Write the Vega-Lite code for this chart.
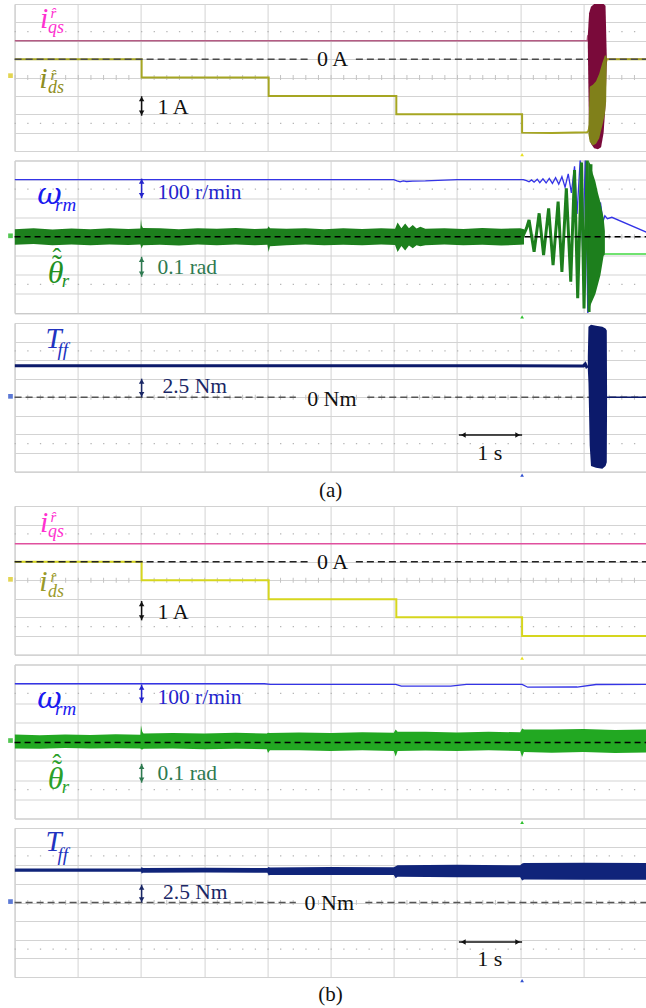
{
  "$schema": "https://vega.github.io/schema/vega-lite/v6.json",
  "padding": {"left": 7.6, "top": 3, "right": 0, "bottom": 0},
  "background": "white",
  "config": {
    "view": {"stroke": "#c2c2c2", "strokeWidth": 1},
    "text": {"font": "Liberation Serif"}
  },
  "bounds": "flush",
  "spacing": 9.5,
  "vconcat": [
        {
          "width": 632, "height": 147,
          "encoding": {
            "x": {"field": "t", "type": "quantitative", "scale": {"domain": [0, 10], "nice": false, "zero": false}, "axis": {"values": [0,1,2,3,4,5,6,7,8,9,10], "grid": true, "gridColor": "#d3d3d3", "labels": false, "ticks": false, "domain": false, "title": null}},
            "y": {"field": "v", "type": "quantitative", "scale": {"domain": [-4, 4], "nice": false, "zero": false}, "axis": {"values": [-4,-3,-2,-1,0,1,2,3,4], "grid": true, "gridColor": "#d3d3d3", "labels": false, "ticks": false, "domain": false, "title": null}}
          },
          "layer": [
            {"data": {"values": [{"t": 0, "t2": 10, "v": 2.5}, {"t": 0, "t2": 10, "v": -2.5}]}, "mark": {"type": "rule", "color": "#b5b5b5", "strokeWidth": 1.3, "strokeDash": [1.3, 11.34]}, "encoding": {"x2": {"field": "t2"}}},
            {"data": {"values": [{"t": 0, "t2": 10, "v": 0}]}, "mark": {"type": "rule", "color": "#c4c4c4", "strokeWidth": 5, "strokeDash": [1, 11.64]}, "encoding": {"x2": {"field": "t2"}}},
            {"data": {"values": [{"t": -0.065, "v": 0.1}]}, "mark": {"type": "point", "shape": "square", "filled": true, "size": 22, "color": "#e0d040", "opacity": 0.9}},
            {"data": {"values": [{"t": 8.03, "v": -4.2}]}, "mark": {"type": "point", "shape": "triangle-up", "filled": true, "size": 14, "color": "#e8e020", "opacity": 1}},
            {"data": {"values": [{"t": 0, "v": 2}, {"t": 9.06, "v": 2}, {"t": 9.07, "v": 2.3}, {"t": 9.09, "v": 1.8}, {"t": 9.37, "v": 1}, {"t": 10, "v": 1}]}, "mark": {"type": "line", "color": "#b45c84", "strokeWidth": 1.5, "clip": true}},
            {"data": {"values": [{"t": 0, "v": 1}, {"t": 2.01, "v": 1}, {"t": 2.01, "v": 0}, {"t": 4.02, "v": 0}, {"t": 4.02, "v": -1}, {"t": 6.04, "v": -1}, {"t": 6.04, "v": -2}, {"t": 8.03, "v": -2}, {"t": 8.03, "v": -3}, {"t": 8.5, "v": -3.02}, {"t": 9.06, "v": -2.98}, {"t": 9.08, "v": -2.9}, {"t": 9.37, "v": 1}, {"t": 10, "v": 1}]}, "mark": {"type": "line", "color": "#a6a622", "strokeWidth": 2, "clip": true}},
            {"data": {"values": [{"t": 0, "t2": 4.65, "v": 1}, {"t": 5.4, "t2": 10, "v": 1}]}, "mark": {"type": "rule", "color": "#4a4a4a", "strokeWidth": 1.5, "strokeDash": [7, 4]}, "encoding": {"x2": {"field": "t2"}}},
            {"data": {"values": [{"t": 9.07, "v": 2.3, "v2": 1.7}, {"t": 9.09, "v": 3.5, "v2": -3.2}, {"t": 9.12, "v": 3.85, "v2": -3.6}, {"t": 9.17, "v": 4.0, "v2": -3.85}, {"t": 9.23, "v": 4.0, "v2": -3.9}, {"t": 9.28, "v": 4.0, "v2": -3.8}, {"t": 9.32, "v": 4.0, "v2": -3.0}, {"t": 9.35, "v": 3.9, "v2": -1.5}, {"t": 9.37, "v": 1.1, "v2": 0.9}]}, "mark": {"type": "area", "orient": "vertical", "color": "#7a0a3a", "clip": true}, "encoding": {"y2": {"field": "v2"}}},
            {"data": {"values": [{"t": 9.08, "v": -2.7, "v2": -3.1}, {"t": 9.1, "v": -0.5, "v2": -3.5}, {"t": 9.15, "v": -0.4, "v2": -3.7}, {"t": 9.2, "v": -0.2, "v2": -3.6}, {"t": 9.25, "v": 0.2, "v2": -3.3}, {"t": 9.3, "v": 0.8, "v2": -2.6}, {"t": 9.34, "v": 1.2, "v2": -2.0}, {"t": 9.36, "v": 1.2, "v2": -1.3}, {"t": 9.37, "v": 1.05, "v2": 0.95}]}, "mark": {"type": "area", "orient": "vertical", "color": "#80801a", "clip": true}, "encoding": {"y2": {"field": "v2"}}},
            {"data": {"values": [{"t": 5.03, "v": 1, "label": "0 A"}]}, "mark": {"type": "text", "fontSize": 22, "color": "#111", "align": "center", "baseline": "middle"}, "encoding": {"text": {"field": "label"}}},
            {"data": {"values": [{"t": 2.26, "v": -1.59, "label": "1 A"}]}, "mark": {"type": "text", "fontSize": 22, "color": "#111", "align": "left", "baseline": "middle"}, "encoding": {"text": {"field": "label"}}},
            {"data": {"values": [{"t": 2.01, "v": -1.02, "v2": -2.08}]}, "mark": {"type": "rule", "color": "#111", "strokeWidth": 1.5}, "encoding": {"y2": {"field": "v2"}}},
            {"data": {"values": [{"t": 2.01, "v": -1.17}]}, "mark": {"type": "point", "shape": "triangle-up", "filled": true, "size": 30, "color": "#111", "opacity": 1}},
            {"data": {"values": [{"t": 2.01, "v": -1.93}]}, "mark": {"type": "point", "shape": "triangle-down", "filled": true, "size": 30, "color": "#111", "opacity": 1}},
            {"data": {"values": [{"t": 0.4, "v": 2.72, "label": "i"}]}, "mark": {"type": "text", "fontSize": 30, "fontStyle": "italic", "color": "#ff30d0", "align": "left", "baseline": "alphabetic"}, "encoding": {"text": {"field": "label"}}},
            {"data": {"values": [{"t": 0.53, "v": 2.42, "label": "qs"}]}, "mark": {"type": "text", "fontSize": 18, "fontStyle": "italic", "color": "#ff30d0", "align": "left", "baseline": "alphabetic"}, "encoding": {"text": {"field": "label"}}},
            {"data": {"values": [{"t": 0.57, "v": 3.23, "label": "r̂"}]}, "mark": {"type": "text", "fontSize": 15, "fontStyle": "italic", "color": "#ff30d0", "align": "left", "baseline": "alphabetic"}, "encoding": {"text": {"field": "label"}}},
            {"data": {"values": [{"t": 0.39, "v": -0.59, "label": "i"}]}, "mark": {"type": "text", "fontSize": 30, "fontStyle": "italic", "color": "#8e8e22", "align": "left", "baseline": "alphabetic"}, "encoding": {"text": {"field": "label"}}},
            {"data": {"values": [{"t": 0.53, "v": -0.86, "label": "ds"}]}, "mark": {"type": "text", "fontSize": 18, "fontStyle": "italic", "color": "#8e8e22", "align": "left", "baseline": "alphabetic"}, "encoding": {"text": {"field": "label"}}},
            {"data": {"values": [{"t": 0.57, "v": -0.12, "label": "r̂"}]}, "mark": {"type": "text", "fontSize": 15, "fontStyle": "italic", "color": "#8e8e22", "align": "left", "baseline": "alphabetic"}, "encoding": {"text": {"field": "label"}}}
          ]
        },
        {
          "width": 632, "height": 152.5,
          "encoding": {
            "x": {"field": "t", "type": "quantitative", "scale": {"domain": [0, 10], "nice": false, "zero": false}, "axis": {"values": [0,1,2,3,4,5,6,7,8,9,10], "grid": true, "gridColor": "#d3d3d3", "labels": false, "ticks": false, "domain": false, "title": null}},
            "y": {"field": "v", "type": "quantitative", "scale": {"domain": [-4, 4], "nice": false, "zero": false}, "axis": {"values": [-4,-3,-2,-1,0,1,2,3,4], "grid": true, "gridColor": "#d3d3d3", "labels": false, "ticks": false, "domain": false, "title": null}}
          },
          "layer": [
            {"data": {"values": [{"t": 0, "t2": 10, "v": 2.5}, {"t": 0, "t2": 10, "v": -2.5}]}, "mark": {"type": "rule", "color": "#b5b5b5", "strokeWidth": 1.3, "strokeDash": [1.3, 11.34]}, "encoding": {"x2": {"field": "t2"}}},
            {"data": {"values": [{"t": 0, "t2": 10, "v": 0}]}, "mark": {"type": "rule", "color": "#c4c4c4", "strokeWidth": 5, "strokeDash": [1, 11.64]}, "encoding": {"x2": {"field": "t2"}}},
            {"data": {"values": [{"t": -0.065, "v": 0.05}]}, "mark": {"type": "point", "shape": "square", "filled": true, "size": 22, "color": "#40c040", "opacity": 0.9}},
            {"data": {"values": [{"t": 8.03, "v": -4.2}]}, "mark": {"type": "point", "shape": "triangle-up", "filled": true, "size": 14, "color": "#30c030", "opacity": 1}},
            {"data": {"values": [{"t": 0, "v": 3}, {"t": 6.0, "v": 3}, {"t": 6.05, "v": 2.93}, {"t": 6.1, "v": 2.88}, {"t": 6.15, "v": 2.93}, {"t": 6.2, "v": 2.9}, {"t": 6.3, "v": 2.92}, {"t": 6.5, "v": 2.93}, {"t": 6.8, "v": 2.97}, {"t": 7.0, "v": 3.0}, {"t": 8.05, "v": 3.0}, {"t": 8.1, "v": 2.94}, {"t": 8.14, "v": 2.88}, {"t": 8.18, "v": 2.98}, {"t": 8.22, "v": 2.86}, {"t": 8.27, "v": 3.02}, {"t": 8.31, "v": 2.84}, {"t": 8.36, "v": 3.04}, {"t": 8.41, "v": 2.82}, {"t": 8.46, "v": 3.06}, {"t": 8.51, "v": 2.8}, {"t": 8.56, "v": 3.1}, {"t": 8.61, "v": 2.76}, {"t": 8.66, "v": 3.15}, {"t": 8.71, "v": 2.6}, {"t": 8.76, "v": 3.3}, {"t": 8.81, "v": 2.3}, {"t": 8.86, "v": 3.7}, {"t": 8.9, "v": 1.2}, {"t": 8.95, "v": 4.1}, {"t": 8.99, "v": -1.0}, {"t": 9.03, "v": 4.2}, {"t": 9.07, "v": -4.1}, {"t": 9.11, "v": 3.0}, {"t": 9.15, "v": -2.5}, {"t": 9.19, "v": 2.0}, {"t": 9.23, "v": -1.0}, {"t": 9.27, "v": 1.8}, {"t": 9.31, "v": 0.8}, {"t": 9.34, "v": 1.1}, {"t": 9.38, "v": 0.95}, {"t": 9.45, "v": 1.02}, {"t": 10, "v": 0.24}]}, "mark": {"type": "line", "color": "#3434e6", "strokeWidth": 1.3, "clip": true}},
            {"data": {"values": [{"t": 0, "v": 0.4, "v2": -0.42}, {"t": 0.3, "v": 0.44, "v2": -0.38}, {"t": 0.6, "v": 0.38, "v2": -0.44}, {"t": 0.9, "v": 0.43, "v2": -0.4}, {"t": 1.2, "v": 0.4, "v2": -0.45}, {"t": 1.5, "v": 0.45, "v2": -0.4}, {"t": 1.8, "v": 0.41, "v2": -0.43}, {"t": 1.99, "v": 0.43, "v2": -0.41}, {"t": 2.0, "v": 0.95, "v2": -0.5}, {"t": 2.01, "v": 0.6, "v2": -0.62}, {"t": 2.03, "v": 0.46, "v2": -0.45}, {"t": 2.3, "v": 0.44, "v2": -0.42}, {"t": 2.6, "v": 0.4, "v2": -0.46}, {"t": 2.9, "v": 0.45, "v2": -0.41}, {"t": 3.2, "v": 0.42, "v2": -0.44}, {"t": 3.5, "v": 0.46, "v2": -0.4}, {"t": 3.8, "v": 0.41, "v2": -0.44}, {"t": 4.0, "v": 0.43, "v2": -0.42}, {"t": 4.02, "v": 0.55, "v2": -0.8}, {"t": 4.04, "v": 0.45, "v2": -0.5}, {"t": 4.3, "v": 0.42, "v2": -0.44}, {"t": 4.6, "v": 0.45, "v2": -0.4}, {"t": 4.9, "v": 0.4, "v2": -0.45}, {"t": 5.2, "v": 0.44, "v2": -0.42}, {"t": 5.5, "v": 0.41, "v2": -0.44}, {"t": 5.8, "v": 0.44, "v2": -0.41}, {"t": 6.02, "v": 0.42, "v2": -0.43}, {"t": 6.06, "v": 0.75, "v2": -0.8}, {"t": 6.12, "v": 0.45, "v2": -0.48}, {"t": 6.18, "v": 0.7, "v2": -0.72}, {"t": 6.24, "v": 0.44, "v2": -0.46}, {"t": 6.3, "v": 0.62, "v2": -0.6}, {"t": 6.36, "v": 0.43, "v2": -0.45}, {"t": 6.42, "v": 0.52, "v2": -0.5}, {"t": 6.5, "v": 0.42, "v2": -0.44}, {"t": 6.8, "v": 0.45, "v2": -0.41}, {"t": 7.1, "v": 0.41, "v2": -0.45}, {"t": 7.4, "v": 0.46, "v2": -0.42}, {"t": 7.7, "v": 0.42, "v2": -0.46}, {"t": 8.0, "v": 0.44, "v2": -0.42}, {"t": 8.06, "v": 0.4, "v2": -0.4}]}, "mark": {"type": "area", "orient": "vertical", "color": "#1d7f1d", "clip": true}, "encoding": {"y2": {"field": "v2"}}},
            {"data": {"values": [{"t": 8.04, "v": 0.0}, {"t": 8.1, "v": 0.45}, {"t": 8.14, "v": 0.88}, {"t": 8.22, "v": -0.79}, {"t": 8.3, "v": 1.23}, {"t": 8.37, "v": -0.96}, {"t": 8.45, "v": 1.49}, {"t": 8.52, "v": -1.49}, {"t": 8.6, "v": 1.84}, {"t": 8.66, "v": -1.84}, {"t": 8.73, "v": 2.54}, {"t": 8.8, "v": -2.36}, {"t": 8.86, "v": 3.5}, {"t": 8.91, "v": -3.23}, {"t": 8.97, "v": 3.9}, {"t": 9.01, "v": -3.76}, {"t": 9.06, "v": 4.1}, {"t": 9.09, "v": -3.95}, {"t": 9.12, "v": 3.8}]}, "mark": {"type": "line", "color": "#1d7f1d", "strokeWidth": 3, "clip": true}},
            {"data": {"values": [{"t": 9.08, "v": 4.0, "v2": -4.0}, {"t": 9.11, "v": 3.8, "v2": -3.6}, {"t": 9.15, "v": 3.3, "v2": -3.3}, {"t": 9.19, "v": 2.9, "v2": -3.0}, {"t": 9.23, "v": 2.3, "v2": -2.5}, {"t": 9.27, "v": 1.8, "v2": -2.0}, {"t": 9.3, "v": 1.3, "v2": -1.4}, {"t": 9.32, "v": 1.0, "v2": -1.0}, {"t": 9.34, "v": 0.3, "v2": -0.95}]}, "mark": {"type": "area", "orient": "vertical", "color": "#1d7f1d", "clip": true}, "encoding": {"y2": {"field": "v2"}}},
            {"data": {"values": [{"t": 9.34, "v": -0.9}, {"t": 10, "v": -0.9}]}, "mark": {"type": "line", "color": "#40d840", "strokeWidth": 1.5, "clip": true}},
            {"data": {"values": [{"t": 0, "t2": 10, "v": 0}]}, "mark": {"type": "rule", "color": "#000", "strokeWidth": 1.4, "strokeDash": [6, 4]}, "encoding": {"x2": {"field": "t2"}}},
            {"data": {"values": [{"t": 2.26, "v": 2.28, "label": "100 r/min"}]}, "mark": {"type": "text", "fontSize": 21.5, "color": "#2424cc", "align": "left", "baseline": "middle"}, "encoding": {"text": {"field": "label"}}},
            {"data": {"values": [{"t": 2.01, "v": 3.05, "v2": 2.02}]}, "mark": {"type": "rule", "color": "#2424cc", "strokeWidth": 1.5}, "encoding": {"y2": {"field": "v2"}}},
            {"data": {"values": [{"t": 2.01, "v": 2.9}]}, "mark": {"type": "point", "shape": "triangle-up", "filled": true, "size": 30, "color": "#2424cc", "opacity": 1}},
            {"data": {"values": [{"t": 2.01, "v": 2.17}]}, "mark": {"type": "point", "shape": "triangle-down", "filled": true, "size": 30, "color": "#2424cc", "opacity": 1}},
            {"data": {"values": [{"t": 2.26, "v": -1.66, "label": "0.1 rad"}]}, "mark": {"type": "text", "fontSize": 21.5, "color": "#2e7a50", "align": "left", "baseline": "middle"}, "encoding": {"text": {"field": "label"}}},
            {"data": {"values": [{"t": 2.01, "v": -1.05, "v2": -2.1}]}, "mark": {"type": "rule", "color": "#2e7a50", "strokeWidth": 1.5}, "encoding": {"y2": {"field": "v2"}}},
            {"data": {"values": [{"t": 2.01, "v": -1.2}]}, "mark": {"type": "point", "shape": "triangle-up", "filled": true, "size": 30, "color": "#2e7a50", "opacity": 1}},
            {"data": {"values": [{"t": 2.01, "v": -1.95}]}, "mark": {"type": "point", "shape": "triangle-down", "filled": true, "size": 30, "color": "#2e7a50", "opacity": 1}},
            {"data": {"values": [{"t": 0.36, "v": 1.71, "label": "ω"}]}, "mark": {"type": "text", "font": "DejaVu Serif", "fontSize": 30, "fontStyle": "italic", "color": "#1a1aef", "align": "left", "baseline": "alphabetic"}, "encoding": {"text": {"field": "label"}}},
            {"data": {"values": [{"t": 0.64, "v": 1.35, "label": "rm"}]}, "mark": {"type": "text", "fontSize": 19, "fontStyle": "italic", "color": "#1a1aef", "align": "left", "baseline": "alphabetic"}, "encoding": {"text": {"field": "label"}}},
            {"data": {"values": [{"t": 0.65, "v": -2.43, "label": "θ"}]}, "mark": {"type": "text", "fontSize": 32, "fontStyle": "italic", "color": "#229022", "align": "center", "baseline": "alphabetic"}, "encoding": {"text": {"field": "label"}}},
            {"data": {"values": [{"t": 0.67, "v": -2.0, "label": "˜"}]}, "mark": {"type": "text", "fontSize": 30, "color": "#229022", "align": "center", "baseline": "alphabetic"}, "encoding": {"text": {"field": "label"}}},
            {"data": {"values": [{"t": 0.67, "v": -1.55, "label": "ˆ"}]}, "mark": {"type": "text", "fontSize": 26, "color": "#229022", "align": "center", "baseline": "alphabetic"}, "encoding": {"text": {"field": "label"}}},
            {"data": {"values": [{"t": 0.745, "v": -2.61, "label": "r"}]}, "mark": {"type": "text", "fontSize": 19, "fontStyle": "italic", "color": "#229022", "align": "left", "baseline": "alphabetic"}, "encoding": {"text": {"field": "label"}}}
          ]
        },
        {
          "width": 632, "height": 148.5,
          "encoding": {
            "x": {"field": "t", "type": "quantitative", "scale": {"domain": [0, 10], "nice": false, "zero": false}, "axis": {"values": [0,1,2,3,4,5,6,7,8,9,10], "grid": true, "gridColor": "#d3d3d3", "labels": false, "ticks": false, "domain": false, "title": null}},
            "y": {"field": "v", "type": "quantitative", "scale": {"domain": [-4, 4], "nice": false, "zero": false}, "axis": {"values": [-4,-3,-2,-1,0,1,2,3,4], "grid": true, "gridColor": "#d3d3d3", "labels": false, "ticks": false, "domain": false, "title": null}}
          },
          "layer": [
            {"data": {"values": [{"t": 0, "t2": 10, "v": 2.5}, {"t": 0, "t2": 10, "v": -2.5}]}, "mark": {"type": "rule", "color": "#b5b5b5", "strokeWidth": 1.3, "strokeDash": [1.3, 11.34]}, "encoding": {"x2": {"field": "t2"}}},
            {"data": {"values": [{"t": 0, "t2": 10, "v": 0}]}, "mark": {"type": "rule", "color": "#c4c4c4", "strokeWidth": 5, "strokeDash": [1, 11.64]}, "encoding": {"x2": {"field": "t2"}}},
            {"data": {"values": [{"t": -0.065, "v": 0.05}]}, "mark": {"type": "point", "shape": "square", "filled": true, "size": 22, "color": "#4a6ad0", "opacity": 0.9}},
            {"data": {"values": [{"t": 8.03, "v": -4.2}]}, "mark": {"type": "point", "shape": "triangle-up", "filled": true, "size": 14, "color": "#3050d0", "opacity": 1}},
            {"data": {"values": [{"t": 0, "t2": 4.45, "v": 0}, {"t": 5.58, "t2": 10, "v": 0}]}, "mark": {"type": "rule", "color": "#555", "strokeWidth": 1.3, "strokeDash": [7, 4]}, "encoding": {"x2": {"field": "t2"}}},
            {"data": {"values": [{"t": 0, "v": 1.7}, {"t": 4.0, "v": 1.7}, {"t": 9.0, "v": 1.69}, {"t": 9.03, "v": 1.8}, {"t": 9.05, "v": 1.65}, {"t": 9.07, "v": 1.7}]}, "mark": {"type": "line", "color": "#0c1a6b", "strokeWidth": 3, "clip": true}},
            {"data": {"values": [{"t": 9.37, "v": 0}, {"t": 10, "v": 0}]}, "mark": {"type": "line", "color": "#0c1a6b", "strokeWidth": 1.3, "clip": true}},
            {"data": {"values": [{"t": 9.07, "v": 2.2, "v2": 1.5}, {"t": 9.08, "v": 3.8, "v2": 0.8}, {"t": 9.1, "v": 3.85, "v2": -2.6}, {"t": 9.12, "v": 3.9, "v2": -3.7}, {"t": 9.2, "v": 3.85, "v2": -3.8}, {"t": 9.3, "v": 3.8, "v2": -3.85}, {"t": 9.35, "v": 3.7, "v2": -3.7}, {"t": 9.37, "v": 3.6, "v2": -3.5}, {"t": 9.375, "v": 0.05, "v2": -0.05}]}, "mark": {"type": "area", "orient": "vertical", "color": "#0c1a6b", "clip": true}, "encoding": {"y2": {"field": "v2"}}},
            {"data": {"values": [{"t": 5.02, "v": -0.1, "label": "0 Nm"}]}, "mark": {"type": "text", "fontSize": 22, "color": "#111", "align": "center", "baseline": "middle"}, "encoding": {"text": {"field": "label"}}},
            {"data": {"values": [{"t": 2.34, "v": 0.55, "label": "2.5 Nm"}]}, "mark": {"type": "text", "fontSize": 21.5, "color": "#1a2766", "align": "left", "baseline": "middle"}, "encoding": {"text": {"field": "label"}}},
            {"data": {"values": [{"t": 2.01, "v": 1.0, "v2": 0.0}]}, "mark": {"type": "rule", "color": "#1a2766", "strokeWidth": 1.5}, "encoding": {"y2": {"field": "v2"}}},
            {"data": {"values": [{"t": 2.01, "v": 0.85}]}, "mark": {"type": "point", "shape": "triangle-up", "filled": true, "size": 30, "color": "#1a2766", "opacity": 1}},
            {"data": {"values": [{"t": 2.01, "v": 0.15}]}, "mark": {"type": "point", "shape": "triangle-down", "filled": true, "size": 30, "color": "#1a2766", "opacity": 1}},
            {"data": {"values": [{"t": 7.03, "t2": 8.03, "v": -2.03}]}, "mark": {"type": "rule", "color": "#111", "strokeWidth": 1.5}, "encoding": {"x2": {"field": "t2"}}},
            {"data": {"values": [{"t": 7.1, "v": -2.03}]}, "mark": {"type": "point", "shape": "triangle-left", "filled": true, "size": 30, "color": "#111", "opacity": 1}},
            {"data": {"values": [{"t": 7.96, "v": -2.03}]}, "mark": {"type": "point", "shape": "triangle-right", "filled": true, "size": 30, "color": "#111", "opacity": 1}},
            {"data": {"values": [{"t": 7.52, "v": -3.0, "label": "1 s"}]}, "mark": {"type": "text", "fontSize": 22, "color": "#111", "align": "center", "baseline": "middle"}, "encoding": {"text": {"field": "label"}}},
            {"data": {"values": [{"t": 0.49, "v": 2.63, "label": "T"}]}, "mark": {"type": "text", "fontSize": 29, "fontStyle": "italic", "color": "#2233c0", "align": "left", "baseline": "alphabetic"}, "encoding": {"text": {"field": "label"}}},
            {"data": {"values": [{"t": 0.68, "v": 2.23, "label": "ff"}]}, "mark": {"type": "text", "fontSize": 19, "fontStyle": "italic", "color": "#2233c0", "align": "left", "baseline": "alphabetic"}, "encoding": {"text": {"field": "label"}}}
          ]
        },
        {
          "width": 632, "height": 15,
          "view": {"stroke": null},
          "data": {"values": [{"label": "(a)"}]},
          "mark": {"type": "text", "fontSize": 21, "color": "#111", "align": "center", "baseline": "middle", "dy": 2},
          "encoding": {"text": {"field": "label"}}
        },
        {
          "width": 632, "height": 148.5,
          "encoding": {
            "x": {"field": "t", "type": "quantitative", "scale": {"domain": [0, 10], "nice": false, "zero": false}, "axis": {"values": [0,1,2,3,4,5,6,7,8,9,10], "grid": true, "gridColor": "#d3d3d3", "labels": false, "ticks": false, "domain": false, "title": null}},
            "y": {"field": "v", "type": "quantitative", "scale": {"domain": [-4, 4], "nice": false, "zero": false}, "axis": {"values": [-4,-3,-2,-1,0,1,2,3,4], "grid": true, "gridColor": "#d3d3d3", "labels": false, "ticks": false, "domain": false, "title": null}}
          },
          "layer": [
            {"data": {"values": [{"t": 0, "t2": 10, "v": 2.5}, {"t": 0, "t2": 10, "v": -2.5}]}, "mark": {"type": "rule", "color": "#b5b5b5", "strokeWidth": 1.3, "strokeDash": [1.3, 11.34]}, "encoding": {"x2": {"field": "t2"}}},
            {"data": {"values": [{"t": 0, "t2": 10, "v": 0}]}, "mark": {"type": "rule", "color": "#c4c4c4", "strokeWidth": 5, "strokeDash": [1, 11.64]}, "encoding": {"x2": {"field": "t2"}}},
            {"data": {"values": [{"t": -0.065, "v": 0.05}]}, "mark": {"type": "point", "shape": "square", "filled": true, "size": 22, "color": "#e0d040", "opacity": 0.9}},
            {"data": {"values": [{"t": 8.03, "v": -4.2}]}, "mark": {"type": "point", "shape": "triangle-up", "filled": true, "size": 14, "color": "#e8e020", "opacity": 1}},
            {"data": {"values": [{"t": 0, "v": 1.97}, {"t": 10, "v": 1.97}]}, "mark": {"type": "line", "color": "#e0509e", "strokeWidth": 1.6, "clip": true}},
            {"data": {"values": [{"t": 0, "v": 1}, {"t": 2.01, "v": 1}, {"t": 2.01, "v": 0}, {"t": 4.02, "v": 0}, {"t": 4.02, "v": -1.02}, {"t": 6.04, "v": -1.02}, {"t": 6.04, "v": -2.0}, {"t": 8.03, "v": -2.0}, {"t": 8.03, "v": -3.0}, {"t": 10, "v": -3.0}]}, "mark": {"type": "line", "color": "#d6d61e", "strokeWidth": 2, "clip": true}},
            {"data": {"values": [{"t": 0, "t2": 4.65, "v": 1}, {"t": 5.4, "t2": 10, "v": 1}]}, "mark": {"type": "rule", "color": "#222", "strokeWidth": 1.5, "strokeDash": [7, 4]}, "encoding": {"x2": {"field": "t2"}}},
            {"data": {"values": [{"t": 5.03, "v": 1, "label": "0 A"}]}, "mark": {"type": "text", "fontSize": 22, "color": "#111", "align": "center", "baseline": "middle"}, "encoding": {"text": {"field": "label"}}},
            {"data": {"values": [{"t": 2.26, "v": -1.71, "label": "1 A"}]}, "mark": {"type": "text", "fontSize": 22, "color": "#111", "align": "left", "baseline": "middle"}, "encoding": {"text": {"field": "label"}}},
            {"data": {"values": [{"t": 2.01, "v": -1.12, "v2": -2.16}]}, "mark": {"type": "rule", "color": "#111", "strokeWidth": 1.5}, "encoding": {"y2": {"field": "v2"}}},
            {"data": {"values": [{"t": 2.01, "v": -1.27}]}, "mark": {"type": "point", "shape": "triangle-up", "filled": true, "size": 30, "color": "#111", "opacity": 1}},
            {"data": {"values": [{"t": 2.01, "v": -2.01}]}, "mark": {"type": "point", "shape": "triangle-down", "filled": true, "size": 30, "color": "#111", "opacity": 1}},
            {"data": {"values": [{"t": 0.4, "v": 2.6, "label": "i"}]}, "mark": {"type": "text", "fontSize": 30, "fontStyle": "italic", "color": "#ff30d0", "align": "left", "baseline": "alphabetic"}, "encoding": {"text": {"field": "label"}}},
            {"data": {"values": [{"t": 0.53, "v": 2.33, "label": "qs"}]}, "mark": {"type": "text", "fontSize": 18, "fontStyle": "italic", "color": "#ff30d0", "align": "left", "baseline": "alphabetic"}, "encoding": {"text": {"field": "label"}}},
            {"data": {"values": [{"t": 0.57, "v": 3.14, "label": "r̂"}]}, "mark": {"type": "text", "fontSize": 15, "fontStyle": "italic", "color": "#ff30d0", "align": "left", "baseline": "alphabetic"}, "encoding": {"text": {"field": "label"}}},
            {"data": {"values": [{"t": 0.39, "v": -0.6, "label": "i"}]}, "mark": {"type": "text", "fontSize": 30, "fontStyle": "italic", "color": "#9a9a2a", "align": "left", "baseline": "alphabetic"}, "encoding": {"text": {"field": "label"}}},
            {"data": {"values": [{"t": 0.53, "v": -0.9, "label": "ds"}]}, "mark": {"type": "text", "fontSize": 18, "fontStyle": "italic", "color": "#9a9a2a", "align": "left", "baseline": "alphabetic"}, "encoding": {"text": {"field": "label"}}},
            {"data": {"values": [{"t": 0.57, "v": -0.12, "label": "r̂"}]}, "mark": {"type": "text", "fontSize": 15, "fontStyle": "italic", "color": "#9a9a2a", "align": "left", "baseline": "alphabetic"}, "encoding": {"text": {"field": "label"}}}
          ]
        },
        {
          "width": 632, "height": 154,
          "encoding": {
            "x": {"field": "t", "type": "quantitative", "scale": {"domain": [0, 10], "nice": false, "zero": false}, "axis": {"values": [0,1,2,3,4,5,6,7,8,9,10], "grid": true, "gridColor": "#d3d3d3", "labels": false, "ticks": false, "domain": false, "title": null}},
            "y": {"field": "v", "type": "quantitative", "scale": {"domain": [-4, 4], "nice": false, "zero": false}, "axis": {"values": [-4,-3,-2,-1,0,1,2,3,4], "grid": true, "gridColor": "#d3d3d3", "labels": false, "ticks": false, "domain": false, "title": null}}
          },
          "layer": [
            {"data": {"values": [{"t": 0, "t2": 10, "v": 2.5}, {"t": 0, "t2": 10, "v": -2.5}]}, "mark": {"type": "rule", "color": "#b5b5b5", "strokeWidth": 1.3, "strokeDash": [1.3, 11.34]}, "encoding": {"x2": {"field": "t2"}}},
            {"data": {"values": [{"t": 0, "t2": 10, "v": 0}]}, "mark": {"type": "rule", "color": "#c4c4c4", "strokeWidth": 5, "strokeDash": [1, 11.64]}, "encoding": {"x2": {"field": "t2"}}},
            {"data": {"values": [{"t": -0.065, "v": 0.05}]}, "mark": {"type": "point", "shape": "square", "filled": true, "size": 22, "color": "#40c040", "opacity": 0.9}},
            {"data": {"values": [{"t": 8.03, "v": -4.2}]}, "mark": {"type": "point", "shape": "triangle-up", "filled": true, "size": 14, "color": "#30c030", "opacity": 1}},
            {"data": {"values": [{"t": 0, "v": 3.0}, {"t": 3.95, "v": 3.0}, {"t": 4.05, "v": 2.97}, {"t": 6.03, "v": 2.97}, {"t": 6.12, "v": 2.88}, {"t": 6.9, "v": 2.88}, {"t": 7.15, "v": 2.97}, {"t": 8.03, "v": 2.97}, {"t": 8.12, "v": 2.82}, {"t": 8.9, "v": 2.83}, {"t": 9.2, "v": 2.96}, {"t": 10, "v": 2.97}]}, "mark": {"type": "line", "color": "#3434e6", "strokeWidth": 1.3, "clip": true}},
            {"data": {"values": [{"t": 0, "v": 0.36, "v2": -0.36}, {"t": 0.4, "v": 0.33, "v2": -0.38}, {"t": 0.8, "v": 0.37, "v2": -0.34}, {"t": 1.2, "v": 0.34, "v2": -0.37}, {"t": 1.6, "v": 0.38, "v2": -0.35}, {"t": 1.99, "v": 0.35, "v2": -0.37}, {"t": 2.0, "v": 0.85, "v2": -0.4}, {"t": 2.02, "v": 0.5, "v2": -0.42}, {"t": 2.04, "v": 0.42, "v2": -0.38}, {"t": 2.5, "v": 0.44, "v2": -0.37}, {"t": 3.0, "v": 0.41, "v2": -0.4}, {"t": 3.5, "v": 0.45, "v2": -0.38}, {"t": 3.99, "v": 0.42, "v2": -0.4}, {"t": 4.01, "v": 0.46, "v2": -0.6}, {"t": 4.04, "v": 0.44, "v2": -0.45}, {"t": 4.5, "v": 0.47, "v2": -0.46}, {"t": 5.0, "v": 0.44, "v2": -0.5}, {"t": 5.5, "v": 0.48, "v2": -0.46}, {"t": 6.0, "v": 0.45, "v2": -0.49}, {"t": 6.03, "v": 0.62, "v2": -0.78}, {"t": 6.06, "v": 0.5, "v2": -0.5}, {"t": 6.5, "v": 0.5, "v2": -0.47}, {"t": 7.0, "v": 0.47, "v2": -0.5}, {"t": 7.5, "v": 0.5, "v2": -0.46}, {"t": 8.0, "v": 0.48, "v2": -0.5}, {"t": 8.03, "v": 0.68, "v2": -0.8}, {"t": 8.06, "v": 0.62, "v2": -0.55}, {"t": 8.5, "v": 0.62, "v2": -0.58}, {"t": 9.0, "v": 0.65, "v2": -0.55}, {"t": 9.5, "v": 0.6, "v2": -0.6}, {"t": 10, "v": 0.63, "v2": -0.57}]}, "mark": {"type": "area", "orient": "vertical", "color": "#22a822", "clip": true}, "encoding": {"y2": {"field": "v2"}}},
            {"data": {"values": [{"t": 0, "t2": 10, "v": -0.05}]}, "mark": {"type": "rule", "color": "#000", "strokeWidth": 1.4, "strokeDash": [6, 4]}, "encoding": {"x2": {"field": "t2"}}},
            {"data": {"values": [{"t": 2.26, "v": 2.24, "label": "100 r/min"}]}, "mark": {"type": "text", "fontSize": 21.5, "color": "#2424cc", "align": "left", "baseline": "middle"}, "encoding": {"text": {"field": "label"}}},
            {"data": {"values": [{"t": 2.01, "v": 2.96, "v2": 2.01}]}, "mark": {"type": "rule", "color": "#2424cc", "strokeWidth": 1.5}, "encoding": {"y2": {"field": "v2"}}},
            {"data": {"values": [{"t": 2.01, "v": 2.81}]}, "mark": {"type": "point", "shape": "triangle-up", "filled": true, "size": 30, "color": "#2424cc", "opacity": 1}},
            {"data": {"values": [{"t": 2.01, "v": 2.16}]}, "mark": {"type": "point", "shape": "triangle-down", "filled": true, "size": 30, "color": "#2424cc", "opacity": 1}},
            {"data": {"values": [{"t": 2.26, "v": -1.71, "label": "0.1 rad"}]}, "mark": {"type": "text", "fontSize": 21.5, "color": "#2e7a50", "align": "left", "baseline": "middle"}, "encoding": {"text": {"field": "label"}}},
            {"data": {"values": [{"t": 2.01, "v": -1.16, "v2": -2.14}]}, "mark": {"type": "rule", "color": "#2e7a50", "strokeWidth": 1.5}, "encoding": {"y2": {"field": "v2"}}},
            {"data": {"values": [{"t": 2.01, "v": -1.31}]}, "mark": {"type": "point", "shape": "triangle-up", "filled": true, "size": 30, "color": "#2e7a50", "opacity": 1}},
            {"data": {"values": [{"t": 2.01, "v": -1.99}]}, "mark": {"type": "point", "shape": "triangle-down", "filled": true, "size": 30, "color": "#2e7a50", "opacity": 1}},
            {"data": {"values": [{"t": 0.36, "v": 1.75, "label": "ω"}]}, "mark": {"type": "text", "font": "DejaVu Serif", "fontSize": 30, "fontStyle": "italic", "color": "#1a1aef", "align": "left", "baseline": "alphabetic"}, "encoding": {"text": {"field": "label"}}},
            {"data": {"values": [{"t": 0.64, "v": 1.4, "label": "rm"}]}, "mark": {"type": "text", "fontSize": 19, "fontStyle": "italic", "color": "#1a1aef", "align": "left", "baseline": "alphabetic"}, "encoding": {"text": {"field": "label"}}},
            {"data": {"values": [{"t": 0.65, "v": -2.49, "label": "θ"}]}, "mark": {"type": "text", "fontSize": 32, "fontStyle": "italic", "color": "#2aa02a", "align": "center", "baseline": "alphabetic"}, "encoding": {"text": {"field": "label"}}},
            {"data": {"values": [{"t": 0.67, "v": -1.99, "label": "˜"}]}, "mark": {"type": "text", "fontSize": 30, "color": "#2aa02a", "align": "center", "baseline": "alphabetic"}, "encoding": {"text": {"field": "label"}}},
            {"data": {"values": [{"t": 0.67, "v": -1.6, "label": "ˆ"}]}, "mark": {"type": "text", "fontSize": 26, "color": "#2aa02a", "align": "center", "baseline": "alphabetic"}, "encoding": {"text": {"field": "label"}}},
            {"data": {"values": [{"t": 0.745, "v": -2.66, "label": "r"}]}, "mark": {"type": "text", "fontSize": 19, "fontStyle": "italic", "color": "#2aa02a", "align": "left", "baseline": "alphabetic"}, "encoding": {"text": {"field": "label"}}}
          ]
        },
        {
          "width": 632, "height": 149,
          "encoding": {
            "x": {"field": "t", "type": "quantitative", "scale": {"domain": [0, 10], "nice": false, "zero": false}, "axis": {"values": [0,1,2,3,4,5,6,7,8,9,10], "grid": true, "gridColor": "#d3d3d3", "labels": false, "ticks": false, "domain": false, "title": null}},
            "y": {"field": "v", "type": "quantitative", "scale": {"domain": [-4, 4], "nice": false, "zero": false}, "axis": {"values": [-4,-3,-2,-1,0,1,2,3,4], "grid": true, "gridColor": "#d3d3d3", "labels": false, "ticks": false, "domain": false, "title": null}}
          },
          "layer": [
            {"data": {"values": [{"t": 0, "t2": 10, "v": 2.5}, {"t": 0, "t2": 10, "v": -2.5}]}, "mark": {"type": "rule", "color": "#b5b5b5", "strokeWidth": 1.3, "strokeDash": [1.3, 11.34]}, "encoding": {"x2": {"field": "t2"}}},
            {"data": {"values": [{"t": 0, "t2": 10, "v": 0}]}, "mark": {"type": "rule", "color": "#c4c4c4", "strokeWidth": 5, "strokeDash": [1, 11.64]}, "encoding": {"x2": {"field": "t2"}}},
            {"data": {"values": [{"t": -0.065, "v": 0.05}]}, "mark": {"type": "point", "shape": "square", "filled": true, "size": 22, "color": "#4a6ad0", "opacity": 0.9}},
            {"data": {"values": [{"t": 8.03, "v": -4.2}]}, "mark": {"type": "point", "shape": "triangle-up", "filled": true, "size": 14, "color": "#3050d0", "opacity": 1}},
            {"data": {"values": [{"t": 0, "t2": 4.45, "v": 0}, {"t": 5.55, "t2": 10, "v": 0}]}, "mark": {"type": "rule", "color": "#555", "strokeWidth": 1.3, "strokeDash": [7, 4]}, "encoding": {"x2": {"field": "t2"}}},
            {"data": {"values": [{"t": 0, "v": 1.82, "v2": 1.65}, {"t": 1.0, "v": 1.83, "v2": 1.65}, {"t": 2.0, "v": 1.82, "v2": 1.65}, {"t": 2.01, "v": 1.9, "v2": 1.55}, {"t": 2.03, "v": 1.85, "v2": 1.6}, {"t": 3.0, "v": 1.86, "v2": 1.61}, {"t": 4.0, "v": 1.85, "v2": 1.6}, {"t": 4.02, "v": 1.9, "v2": 1.45}, {"t": 4.04, "v": 1.88, "v2": 1.48}, {"t": 5.0, "v": 1.9, "v2": 1.47}, {"t": 6.0, "v": 1.89, "v2": 1.47}, {"t": 6.03, "v": 1.95, "v2": 1.3}, {"t": 6.06, "v": 2.0, "v2": 1.38}, {"t": 7.0, "v": 2.02, "v2": 1.36}, {"t": 8.0, "v": 2.0, "v2": 1.36}, {"t": 8.03, "v": 2.1, "v2": 1.18}, {"t": 8.06, "v": 2.12, "v2": 1.24}, {"t": 9.0, "v": 2.14, "v2": 1.22}, {"t": 10, "v": 2.12, "v2": 1.22}]}, "mark": {"type": "area", "orient": "vertical", "color": "#10247a", "clip": true}, "encoding": {"y2": {"field": "v2"}}},
            {"data": {"values": [{"t": 4.98, "v": -0.05, "label": "0 Nm"}]}, "mark": {"type": "text", "fontSize": 22, "color": "#111", "align": "center", "baseline": "middle"}, "encoding": {"text": {"field": "label"}}},
            {"data": {"values": [{"t": 2.35, "v": 0.51, "label": "2.5 Nm"}]}, "mark": {"type": "text", "fontSize": 21.5, "color": "#1a2766", "align": "left", "baseline": "middle"}, "encoding": {"text": {"field": "label"}}},
            {"data": {"values": [{"t": 2.01, "v": 0.96, "v2": 0.0}]}, "mark": {"type": "rule", "color": "#1a2766", "strokeWidth": 1.5}, "encoding": {"y2": {"field": "v2"}}},
            {"data": {"values": [{"t": 2.01, "v": 0.81}]}, "mark": {"type": "point", "shape": "triangle-up", "filled": true, "size": 30, "color": "#1a2766", "opacity": 1}},
            {"data": {"values": [{"t": 2.01, "v": 0.15}]}, "mark": {"type": "point", "shape": "triangle-down", "filled": true, "size": 30, "color": "#1a2766", "opacity": 1}},
            {"data": {"values": [{"t": 7.03, "t2": 8.03, "v": -2.12}]}, "mark": {"type": "rule", "color": "#111", "strokeWidth": 1.5}, "encoding": {"x2": {"field": "t2"}}},
            {"data": {"values": [{"t": 7.1, "v": -2.12}]}, "mark": {"type": "point", "shape": "triangle-left", "filled": true, "size": 30, "color": "#111", "opacity": 1}},
            {"data": {"values": [{"t": 7.96, "v": -2.12}]}, "mark": {"type": "point", "shape": "triangle-right", "filled": true, "size": 30, "color": "#111", "opacity": 1}},
            {"data": {"values": [{"t": 7.52, "v": -3.02, "label": "1 s"}]}, "mark": {"type": "text", "fontSize": 22, "color": "#111", "align": "center", "baseline": "middle"}, "encoding": {"text": {"field": "label"}}},
            {"data": {"values": [{"t": 0.49, "v": 2.75, "label": "T"}]}, "mark": {"type": "text", "fontSize": 29, "fontStyle": "italic", "color": "#2233c0", "align": "left", "baseline": "alphabetic"}, "encoding": {"text": {"field": "label"}}},
            {"data": {"values": [{"t": 0.68, "v": 2.24, "label": "ff"}]}, "mark": {"type": "text", "fontSize": 19, "fontStyle": "italic", "color": "#2233c0", "align": "left", "baseline": "alphabetic"}, "encoding": {"text": {"field": "label"}}}
          ]
        },
        {
          "width": 632, "height": 16,
          "view": {"stroke": null},
          "data": {"values": [{"label": "(b)"}]},
          "mark": {"type": "text", "fontSize": 21, "color": "#111", "align": "center", "baseline": "middle", "dy": 1},
          "encoding": {"text": {"field": "label"}}
        }
  ]
}
